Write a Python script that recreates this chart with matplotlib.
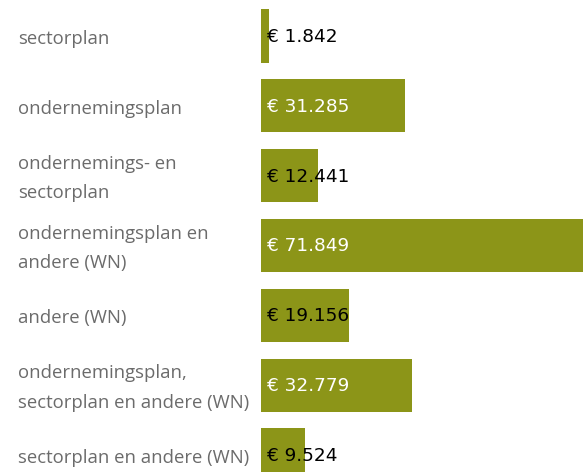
import matplotlib.pyplot as plt

# data
categories = [
    "sectorplan",
    "ondernemingsplan",
    "ondernemings- en\nsectorplan",
    "ondernemingsplan en\nandere (WN)",
    "andere (WN)",
    "ondernemingsplan,\nsectorplan en andere (WN)",
    "sectorplan en andere (WN)",
]
amounts = [1842, 31285, 12441, 71849, 19156, 32779, 9524]

bar_color = "#8c9518"
label_color = "#6b6b6b"


def euro(v):
    return "€ " + f"{v:,}".replace(",", ".")


fig = plt.figure(figsize=(5.83, 4.72), dpi=100)
ax = fig.add_axes([261 / 583, 0, 322 / 583, 1])

pos = list(range(len(categories)))
ax.barh(pos, amounts, height=0.76, color=bar_color)
ax.set_xlim(0, 70000)
ax.set_ylim(6.246, -0.516)
ax.axis("off")

for i, (cat, v) in enumerate(zip(categories, amounts)):
    fig.text(18 / 583, 1 - (39 + 69.8 * i) / 472, cat, ha="left", va="center",
             fontsize=13.3, color=label_color, family="Open Sans", linespacing=1.8)
    t = ax.text(1300, i + 0.015, euro(v), ha="left", va="center", fontsize=13.3,
                family="DejaVu Sans", color="black")
    # white text only when it clearly fits inside the bar
    fig.canvas.draw()
    bb = t.get_window_extent()
    bar_end = ax.transData.transform((v, i))[0]
    if bb.x1 < bar_end - 6:
        t.set_color("white")

fig.savefig("out.png", dpi=100)
